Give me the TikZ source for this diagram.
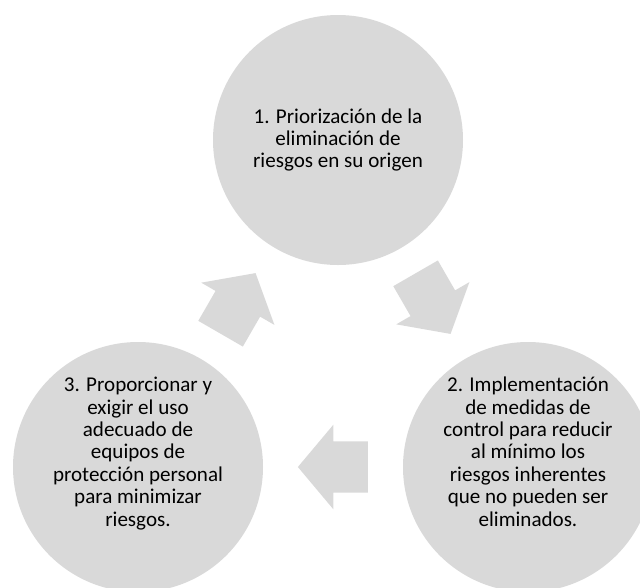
\documentclass[tikz,border=0pt]{standalone}
\usepackage{fontspec}
\setmainfont{Carlito}
\usepackage{xcolor}
\usepackage{tikz}
\usetikzlibrary{calc,shapes.arrows}
\definecolor{stagegray}{HTML}{D9D9D9}

\begin{document}
\begin{tikzpicture}[
  x=0.75pt, y=-0.75pt,
  stage/.style={
    circle,
    fill=stagegray,
    minimum size=187.5pt,
    inner sep=0pt,
    align=center,
    font=\fontsize{15.8}{16.8}\selectfont
  },
  lowstage/.style={stage, text depth=23pt},
  flow/.style={
    single arrow,
    fill=stagegray,
    rotate=#1,
    xshift=-8pt,
    minimum height=52.5pt,
    single arrow head extend=12.4pt,
    single arrow tip angle=100,
    inner xsep=0pt,
    inner ysep=19.1pt
  }
]
\useasboundingbox (0,0) rectangle (640,587);
\clip (0,0) rectangle (640,587);

\node[stage] (origin) at (338,140) {
  1. Priorización de la\\
  eliminación de\\
  riesgos en su origen
};

\node[lowstage] (control) at (528,467) {
  2. Implementación\\
  de medidas de\\
  control para reducir\\
  al mínimo los\\
  riesgos inherentes\\
  que no pueden ser\\
  eliminados.
};

\node[lowstage] (ppe) at (138,467) {
  3. Proporcionar y\\
  exigir el uso\\
  adecuado de\\
  equipos de\\
  protección personal\\
  para minimizar\\
  riesgos.
};

\node[flow=-60] (flowA) at ($(origin)!0.5!(control)$) {};
\node[flow=180] (flowB) at ($(control)!0.5!(ppe)$) {};
\node[flow=60] (flowC) at ($(ppe)!0.5!(origin)$) {};

\end{tikzpicture}
\end{document}
